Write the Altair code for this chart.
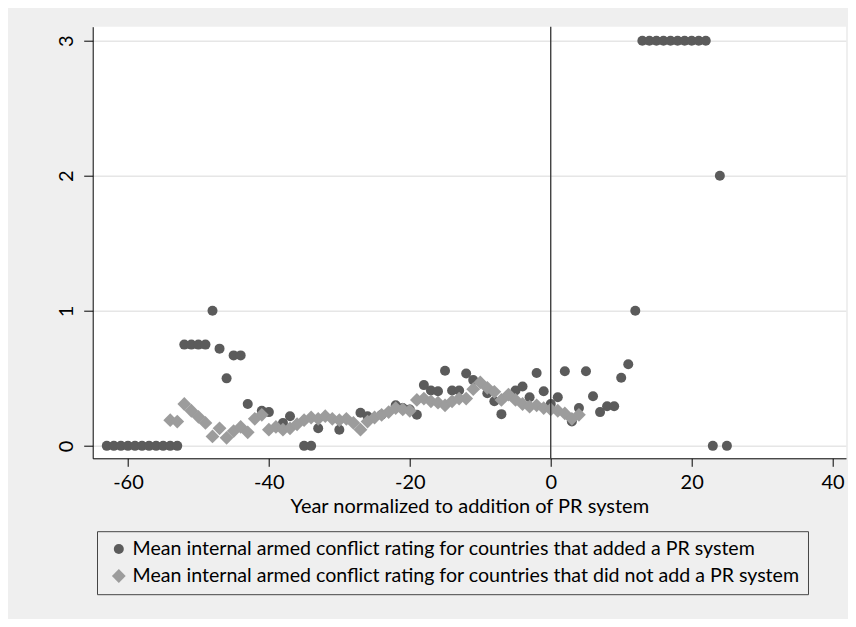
import altair as alt
import pandas as pd

# Series 1: countries that added a PR system (dark circles)
years_added = list(range(-63, -52)) + [-52, -51, -50, -49, -48, -47, -46, -45, -44, -43,
               -41, -40, -38, -37, -35, -34, -33, -30, -27, -26, -24, -22, -21, -20, -19,
               -18, -17, -16, -15, -14, -13, -12, -11, -9, -8, -7, -5, -4, -3, -2, -1,
               0, 1, 2, 3, 4, 5, 6, 7, 8, 9, 10, 11, 12,
               13, 14, 15, 16, 17, 18, 19, 20, 21, 22, 23, 24, 25]
vals_added = [0] * 11 + [0.75, 0.75, 0.75, 0.75, 1.0, 0.72, 0.5, 0.67, 0.67, 0.31,
              0.26, 0.25, 0.17, 0.22, 0.0, 0.0, 0.13, 0.12, 0.245, 0.22, 0.23, 0.30, 0.28, 0.27, 0.23,
              0.45, 0.41, 0.405, 0.556, 0.41, 0.41, 0.536, 0.487, 0.39, 0.33, 0.235, 0.41, 0.44, 0.36, 0.54, 0.405,
              0.31, 0.36, 0.553, 0.18, 0.28, 0.553, 0.368, 0.25, 0.294, 0.294, 0.504, 0.605, 1.0,
              3, 3, 3, 3, 3, 3, 3, 3, 3, 3, 0, 2, 0]

# Series 2: countries that did not add a PR system (light diamonds)
years_not = list(range(-54, 5))
vals_not = [0.19, 0.18, 0.31, 0.26, 0.215, 0.17, 0.07, 0.13, 0.06, 0.11, 0.14, 0.10, 0.20, 0.23,
            0.12, 0.14, 0.12, 0.13, 0.16, 0.19, 0.21, 0.20, 0.22, 0.20, 0.19, 0.20, 0.17, 0.12,
            0.18, 0.21, 0.23, 0.25, 0.28, 0.27, 0.26, 0.34, 0.35, 0.33, 0.32, 0.30, 0.33, 0.35,
            0.35, 0.42, 0.47, 0.43, 0.40, 0.34, 0.38, 0.34, 0.31, 0.29, 0.30, 0.28, 0.27, 0.26,
            0.24, 0.20, 0.23]

series_names = [
    "Mean internal armed conflict rating for countries that added a PR system",
    "Mean internal armed conflict rating for countries that did not add a PR system",
]
x_ticks = [-60, -40, -20, 0, 20, 40]
y_ticks = [0, 1, 2, 3]
ref_line = [0]

df = pd.concat([
    pd.DataFrame({"year": years_added, "value": vals_added, "series": series_names[0]}),
    pd.DataFrame({"year": years_not, "value": vals_not, "series": series_names[1]}),
], ignore_index=True)
df["order"] = range(len(df))

FONT = "Lato"

xscale = alt.Scale(domain=[-65, 41.9], nice=False, zero=False)
yscale = alt.Scale(domain=[-0.092, 3.104], nice=False, zero=False)

legend_cfg = dict(title=None, orient="none", legendX=4.3, legendY=504.5,
                  strokeColor="#444", padding=8, rowPadding=6,
                  labelLimit=900, symbolSize=70, labelFontSize=19.6,
                  labelFont=FONT, labelColor="#000", symbolOffset=4)

points = alt.Chart(df).mark_point(filled=True, opacity=1, strokeWidth=0).encode(
    x=alt.X("year:Q", scale=xscale,
            axis=alt.Axis(values=x_ticks, title="Year normalized to addition of PR system",
                          grid=False, tickSize=8, labelPadding=6, titlePadding=4,
                          labelExpr="'' + datum.value")),
    y=alt.Y("value:Q", scale=yscale,
            axis=alt.Axis(values=y_ticks, title=None, grid=True, tickSize=9,
                          labelAngle=270, labelPadding=7)),
    color=alt.Color("series:N", scale=alt.Scale(domain=series_names, range=["#5b5b5b", "#9c9c9c"]),
                    legend=alt.Legend(**legend_cfg)),
    shape=alt.Shape("series:N", scale=alt.Scale(domain=series_names, range=["circle", "diamond"]),
                    legend=alt.Legend(**legend_cfg)),
    size=alt.Size("series:N", scale=alt.Scale(domain=series_names, range=[100, 190]), legend=None),
    order=alt.Order("order:Q"),
)

rule = alt.Chart(pd.DataFrame({"x": ref_line})).mark_rule(color="#333333", strokeWidth=1.3).encode(
    x=alt.X("x:Q", scale=xscale)
)

chart = alt.layer(points, rule).properties(
    width=753.3, height=431.6,
    autosize=alt.AutoSizeParams(type="none"),
    padding={"left": 84.7, "top": 18.7, "right": 2, "bottom": 161},
    background="#efefef",
).configure_view(fill="white", stroke=None).configure_axis(
    labelFont=FONT, titleFont=FONT, labelFontSize=20, titleFontSize=20,
    labelColor="#000", titleColor="#000", titleFontWeight="normal",
    domainColor="#000", tickColor="#000", domainWidth=1, tickWidth=1,
    gridColor="#e6e6e6", gridWidth=1.5,
)

chart.save("out.html", embed_options={"renderer": "svg", "actions": False})
